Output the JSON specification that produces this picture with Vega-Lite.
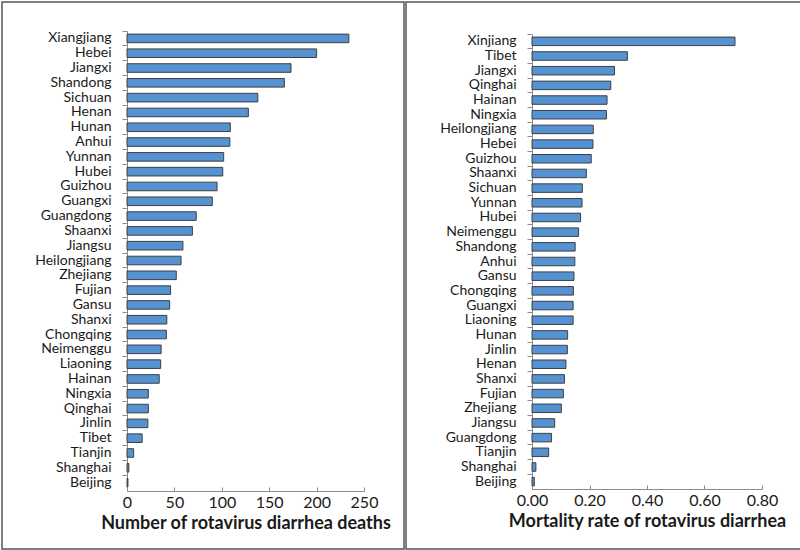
{
  "$schema": "https://vega.github.io/schema/vega-lite/v6.json",
  "padding": {"left": 1, "top": 1, "right": 1, "bottom": 1},
  "spacing": 0,
  "background": "white",
  "config": {
    "view": {"stroke": "#555555", "strokeWidth": 1.5},
    "font": "Lato",
    "axis": {"grid": false, "domainColor": "#8c8c8c", "tickColor": "#8c8c8c", "labelColor": "#1a1a1a", "titleColor": "#1a1a1a"}
  },
  "datasets": {
    "deaths": [
      {"province": "Xiangjiang", "value": 234},
      {"province": "Hebei", "value": 200},
      {"province": "Jiangxi", "value": 173},
      {"province": "Shandong", "value": 166},
      {"province": "Sichuan", "value": 138},
      {"province": "Henan", "value": 128},
      {"province": "Hunan", "value": 109},
      {"province": "Anhui", "value": 108.5},
      {"province": "Yunnan", "value": 102},
      {"province": "Hubei", "value": 101},
      {"province": "Guizhou", "value": 95},
      {"province": "Guangxi", "value": 90},
      {"province": "Guangdong", "value": 73},
      {"province": "Shaanxi", "value": 69},
      {"province": "Jiangsu", "value": 59},
      {"province": "Heilongjiang", "value": 57},
      {"province": "Zhejiang", "value": 52},
      {"province": "Fujian", "value": 46},
      {"province": "Gansu", "value": 45},
      {"province": "Shanxi", "value": 42},
      {"province": "Chongqing", "value": 41.5},
      {"province": "Neimenggu", "value": 36},
      {"province": "Liaoning", "value": 35.5},
      {"province": "Hainan", "value": 34},
      {"province": "Ningxia", "value": 22.5},
      {"province": "Qinghai", "value": 22.5},
      {"province": "Jinlin", "value": 22},
      {"province": "Tibet", "value": 16},
      {"province": "Tianjin", "value": 7},
      {"province": "Shanghai", "value": 2},
      {"province": "Beijing", "value": 1}
    ],
    "rate": [
      {"province": "Xinjiang", "value": 0.706},
      {"province": "Tibet", "value": 0.332},
      {"province": "Jiangxi", "value": 0.287},
      {"province": "Qinghai", "value": 0.274},
      {"province": "Hainan", "value": 0.261},
      {"province": "Ningxia", "value": 0.259},
      {"province": "Heilongjiang", "value": 0.213},
      {"province": "Hebei", "value": 0.212},
      {"province": "Guizhou", "value": 0.206},
      {"province": "Shaanxi", "value": 0.189},
      {"province": "Sichuan", "value": 0.175},
      {"province": "Yunnan", "value": 0.174},
      {"province": "Hubei", "value": 0.169},
      {"province": "Neimenggu", "value": 0.162},
      {"province": "Shandong", "value": 0.150},
      {"province": "Anhui", "value": 0.149},
      {"province": "Gansu", "value": 0.146},
      {"province": "Chongqing", "value": 0.144},
      {"province": "Guangxi", "value": 0.143},
      {"province": "Liaoning", "value": 0.143},
      {"province": "Hunan", "value": 0.124},
      {"province": "Jinlin", "value": 0.123},
      {"province": "Henan", "value": 0.118},
      {"province": "Shanxi", "value": 0.113},
      {"province": "Fujian", "value": 0.109},
      {"province": "Zhejiang", "value": 0.102},
      {"province": "Jiangsu", "value": 0.079},
      {"province": "Guangdong", "value": 0.068},
      {"province": "Tianjin", "value": 0.058},
      {"province": "Shanghai", "value": 0.0135},
      {"province": "Beijing", "value": 0.008}
    ]
  },
  "hconcat": [
    {
      "width": 402,
      "height": 547,
      "data": {"name": "deaths"},
      "mark": {"type": "bar", "color": "#5592d2", "stroke": "#3f3f3f", "strokeWidth": 1, "height": {"band": 0.58}},
      "encoding": {
        "y": {
          "field": "province", "type": "nominal", "sort": null,
          "scale": {"range": [29, 488], "paddingInner": 0, "paddingOuter": 0},
          "axis": {"title": null, "offset": -125, "bandPosition": 0, "tickSize": 5, "labelPadding": 11, "labelFontSize": 14}
        },
        "x": {
          "field": "value", "type": "quantitative",
          "scale": {"domain": [0, 250], "range": [125, 362], "nice": false},
          "axis": {"title": "Number of rotavirus diarrhea deaths", "offset": -58, "values": [0, 50, 100, 150, 200, 250], "tickSize": -4, "labelPadding": 7, "labelFontSize": 16, "labelFlush": false, "titleFontSize": 18, "titleFontWeight": "bold", "titlePadding": 4}
        }
      }
    },
    {
      "width": 396,
      "height": 547,
      "data": {"name": "rate"},
      "mark": {"type": "bar", "color": "#5592d2", "stroke": "#3f3f3f", "strokeWidth": 1, "height": {"band": 0.58}},
      "encoding": {
        "y": {
          "field": "province", "type": "nominal", "sort": null,
          "scale": {"range": [32, 487], "paddingInner": 0, "paddingOuter": 0},
          "axis": {"title": null, "offset": -126, "bandPosition": 0, "tickSize": 5, "labelPadding": 11, "labelFontSize": 14}
        },
        "x": {
          "field": "value", "type": "quantitative",
          "scale": {"domain": [0, 0.8], "range": [126, 356], "nice": false},
          "axis": {"title": "Mortality rate of rotavirus diarrhea", "format": ".2f", "offset": -60, "values": [0, 0.2, 0.4, 0.6, 0.8], "tickSize": -4, "labelPadding": 7, "labelFontSize": 16, "labelFlush": false, "titleFontSize": 18, "titleFontWeight": "bold", "titlePadding": 4}
        }
      }
    }
  ]
}
